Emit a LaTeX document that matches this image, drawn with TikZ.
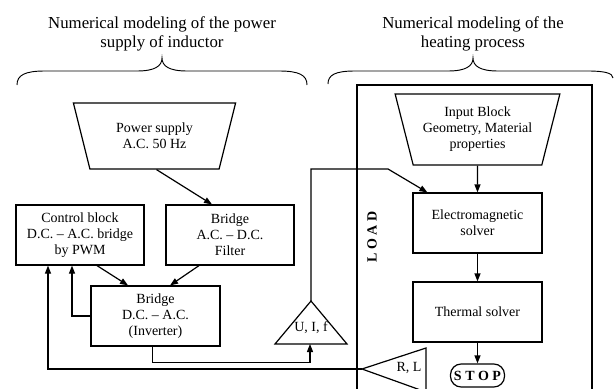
\documentclass[tikz,border=0pt]{standalone}
\usepackage{fontspec}
\setmainfont{Liberation Serif}
\usetikzlibrary{arrows.meta,shapes.geometric}
\begin{document}
\begin{tikzpicture}[x=0.75pt,y=-0.75pt,
  line width=0.9pt,
  txt/.style={font=\fontsize{10.5}{12}\selectfont},
  box/.style={draw, rectangle, minimum width=96pt, minimum height=45pt,
    align=center, txt, inner sep=0pt},
  funnel/.style={draw, trapezium, shape border rotate=180, trapezium stretches=true,
    align=center, txt, inner sep=0pt},
  lbl/.style={align=center, txt, inner sep=0pt},
  title/.style={align=center, font=\fontsize{12.6}{14.25}\selectfont, inner sep=0pt},
  arr/.style={-{Triangle[length=6pt,width=4.5pt]}},
  brace/.style={line width=0.7pt}
]
\useasboundingbox (0,0) rectangle (615,389);

% section titles and braces
\node[title] (t1) at (162,34) {Numerical modeling of the power\\supply of inductor};
\node[title] (t2) at (473,34) {Numerical modeling of the\\heating process};
\draw[brace] (17,85) .. controls (17,75) and (25,71) .. (45,71) -- (137,71)
  .. controls (155,71) and (162,66) .. (162,58)
  .. controls (162,66) and (169,71) .. (187,71) -- (279,71)
  .. controls (299,71) and (307,75) .. (307,85);
\draw[brace] (328,84) .. controls (328,75) and (335,71) .. (355,71) -- (448,71)
  .. controls (466,71) and (473,66) .. (473,58)
  .. controls (473,66) and (480,71) .. (498,71) -- (588,71)
  .. controls (604,71) and (613,73) .. (613,78);

% load frame
\draw (357,389) -- (357,85) -- (592,85) -- (592,389);
\node[font=\fontsize{10.5}{12}\selectfont\bfseries, rotate=90] (load) at (372,237) {L O A D};

% power supply side
\node[funnel, trapezium angle=69.3, minimum width=122.25pt, minimum height=49.5pt]
  (ps) at (154.5,136) {Power supply\\A.C. 50 Hz};
\node[box] (ctrl) at (80,235) {Control block\\D.C. -- A.C. bridge\\by PWM};
\node[box] (acdc) at (230,235) {Bridge\\A.C. -- D.C.\\Filter};
\node[box, minimum width=96.75pt] (inv) at (155.5,316) {Bridge\\D.C. -- A.C.\\(Inverter)};

% measurement triangles
\draw (311,301) -- (347,344) -- (275,344) -- cycle;
\coordinate (uifa) at (311,301);
\coordinate (uifb) at (310,344);
\node[lbl] (uif) at (311,328) {U, I, f};
\draw (362,369) -- (426,348) -- (426,392) -- cycle;
\coordinate (rlt) at (362,369);
\node[lbl] (rl) at (409,368) {R, L};

% heating process side
\node[funnel, trapezium angle=71, minimum width=123.75pt, minimum height=53.25pt]
  (inp) at (477.5,129.5) {Input Block\\Geometry, Material\\properties};
\node[box, minimum width=96.75pt] (em) at (477.5,223) {Electromagnetic\\solver};
\node[box, minimum width=96.75pt] (th) at (477.5,312) {Thermal solver};
\node[draw, rounded corners=8pt, minimum width=40.5pt, minimum height=17.25pt, inner sep=0pt,
  font=\fontsize{10.5}{12}\selectfont\bfseries] (stop) at (477.5,375.5) {S T O P};
\coordinate (bend) at (388,169);

% connectors
\draw[arr] ([xshift=1.5pt]ps.south) -- ([xshift=-13.5pt]acdc.north);
\draw[arr] ([xshift=12.75pt]ctrl.south) -- ([xshift=-20.6pt]inv.north);
\draw[arr] ([xshift=-23.25pt]acdc.south) -- ([xshift=10.9pt]inv.north);
\draw[arr] (inv.west) -| ([xshift=-6pt]ctrl.south);
\draw[arr] ([xshift=-2pt]inv.south) -- ++(0,16) -| (uifb);
\draw[arr] (uifa) |- (bend) -- ([xshift=11.25pt]em.north west);
\draw[arr] (rlt) -| ([xshift=-24pt]ctrl.south);
\draw[arr] (inp.south) -- (em.north);
\draw[arr] (em.south) -- (th.north);
\draw[arr] (th.south) -- (stop.north);
\end{tikzpicture}
\end{document}
